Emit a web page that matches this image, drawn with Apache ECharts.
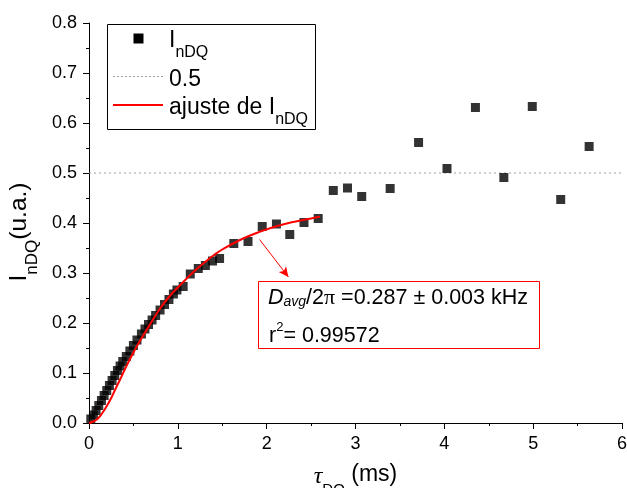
<!DOCTYPE html>
<html>
<head>
<meta charset="utf-8">
<script src="https://cdn.jsdelivr.net/npm/echarts@6/dist/echarts.min.js"></script>
<style>
  html, body { margin: 0; padding: 0; background: #fff; }
  #chart { width: 627px; height: 488px; }
</style>
</head>
<body>
<div id="chart"></div>
<script>
// Measured double-quantum intensity I_nDQ versus DQ evolution time tau_DQ (ms)
const tauDQ = [
  0.02, 0.05, 0.08, 0.11, 0.14, 0.17, 0.20, 0.23, 0.26, 0.29,
  0.32, 0.35, 0.38, 0.42, 0.46, 0.50, 0.54, 0.59, 0.63, 0.67,
  0.71, 0.75, 0.80, 0.85, 0.90, 0.95, 0.99, 1.06, 1.14, 1.23,
  1.31, 1.39, 1.47, 1.63, 1.79, 1.95, 2.11, 2.26, 2.42, 2.58,
  2.75, 2.91, 3.07, 3.39, 3.71, 4.03, 4.35, 4.67, 4.99, 5.31, 5.63
];
const intensity = [
  0.008, 0.016, 0.025, 0.035, 0.045, 0.055, 0.065, 0.075, 0.085, 0.095,
  0.105, 0.114, 0.123, 0.133, 0.144, 0.155, 0.166, 0.178, 0.188, 0.197,
  0.206, 0.215, 0.226, 0.237, 0.247, 0.258, 0.266, 0.273, 0.298, 0.309,
  0.315, 0.324, 0.329, 0.359, 0.363, 0.393, 0.398, 0.377, 0.401, 0.409,
  0.465, 0.470, 0.453, 0.469, 0.561, 0.509, 0.631, 0.491, 0.633, 0.447, 0.553
];

// Fitted build-up curve
const fitTau = [0, 0.05, 0.10, 0.15, 0.20, 0.25, 0.30, 0.35, 0.40, 0.50,
  0.60, 0.70, 0.80, 0.90, 1.00, 1.10, 1.20, 1.30, 1.40, 1.50,
  1.70, 1.90, 2.10, 2.30, 2.50, 2.60];
const fitValue = [0, 0.003, 0.009, 0.020, 0.034, 0.050, 0.069, 0.087, 0.106, 0.141,
  0.172, 0.201, 0.229, 0.252, 0.271, 0.289, 0.306, 0.321, 0.335, 0.347,
  0.366, 0.381, 0.393, 0.402, 0.409, 0.413];

// Reference level
const refLevel = 0.5;
const xRange = [0, 6];

// Arrow from the fitted curve to the result box
const arrowFrom = [1.92, 0.367];
const arrowTo = [2.245, 0.292];

// Legend entries and fit results
const legendNames = ['I', 'nDQ', '0.5', 'ajuste de I', 'nDQ'];
const fitResult = { value: '0.287', error: '0.003', unit: 'kHz', r2: '0.99572' };

const FONT = '"Liberation Sans", Arial, sans-serif';
const SERIF = '"Liberation Serif", "Times New Roman", serif';
const BLACK = '#000000';
const RED = '#ff0000';
const GREY = '#a0a0a0';

const chart = echarts.init(document.getElementById('chart'), null, { renderer: 'canvas' });

function txt(x, y, text, rich) {
  return { type: 'text', x: x, y: y, silent: true, style: { text: text, rich: rich } };
}

const legendRich = {
  a: { fontFamily: FONT, fontSize: 23, color: BLACK, verticalAlign: 'top' },
  s: { fontFamily: FONT, fontSize: 16, color: BLACK, verticalAlign: 'top', padding: [16, 0, 0, 0] }
};

const resultRich = {
  d: { fontFamily: FONT, fontStyle: 'italic', fontSize: 21.5, color: BLACK, verticalAlign: 'top', padding: [4, 0, 0, 0] },
  sub: { fontFamily: FONT, fontStyle: 'italic', fontSize: 14, color: BLACK, verticalAlign: 'top', padding: [12, 0, 0, 0] },
  a: { fontFamily: FONT, fontSize: 21.5, color: BLACK, verticalAlign: 'top', padding: [4, 0, 0, 0] },
  p: { fontFamily: SERIF, fontSize: 22, color: BLACK, verticalAlign: 'top', padding: [4, 0, 0, 0] },
  sup: { fontFamily: FONT, fontSize: 13, color: BLACK, verticalAlign: 'top', padding: [0, 0, 0, 0] }
};

const option = {
  backgroundColor: '#ffffff',
  animation: false,
  grid: { left: 89, right: 5, top: 23, bottom: 65, containLabel: false, outerBoundsMode: 'none' },
  xAxis: {
    type: 'value',
    min: 0, max: 6, interval: 1,
    name: '{t|τ}{s|DQ}{a| (ms)}',
    nameLocation: 'middle',
    nameGap: 40,
    nameTextStyle: {
      rich: {
        t: { fontFamily: SERIF, fontStyle: 'italic', fontSize: 24, color: BLACK, verticalAlign: 'top', padding: [2, 0, 0, 0] },
        s: { fontFamily: FONT, fontSize: 15, color: BLACK, verticalAlign: 'top', padding: [19, 0, 0, 0] },
        a: { fontFamily: FONT, fontSize: 23, color: BLACK, verticalAlign: 'top' }
      }
    },
    axisLine: { lineStyle: { color: BLACK, width: 1 } },
    axisTick: { inside: false, length: 6, lineStyle: { color: BLACK } },
    minorTick: { show: true, splitNumber: 2, length: 3, lineStyle: { color: BLACK } },
    splitLine: { show: false },
    axisLabel: { fontFamily: FONT, fontSize: 18, color: BLACK, margin: 12 }
  },
  yAxis: {
    type: 'value',
    min: 0, max: 0.8, interval: 0.1,
    name: '{a|I}{s|nDQ}{a|(u.a.)}',
    nameLocation: 'middle',
    nameGap: 46,
    nameRotate: 90,
    nameTextStyle: {
      padding: [0, 18, 0, 0],
      rich: {
        a: { fontFamily: FONT, fontSize: 24.5, color: BLACK, verticalAlign: 'top' },
        s: { fontFamily: FONT, fontSize: 17, color: BLACK, verticalAlign: 'top', padding: [17, 0, 0, 0] }
      }
    },
    axisLine: { show: true, lineStyle: { color: BLACK, width: 1 } },
    axisTick: { show: true, inside: false, length: 6, lineStyle: { color: BLACK } },
    minorTick: { show: true, splitNumber: 2, length: 3, lineStyle: { color: BLACK } },
    splitLine: { show: false },
    axisLabel: {
      fontFamily: FONT, fontSize: 18, color: BLACK, margin: 12,
      formatter: v => v.toFixed(1)
    }
  },
  graphic: [
    // legend
    {
      type: 'group',
      silent: true,
      children: [
        { type: 'rect', shape: { x: 107.5, y: 24.5, width: 208, height: 105 },
          style: { fill: '#ffffff', stroke: BLACK, lineWidth: 1 } },
        { type: 'rect', shape: { x: 133.5, y: 33.5, width: 10, height: 10 },
          style: { fill: BLACK } },
        { type: 'line', shape: { x1: 113, y1: 76.5, x2: 163, y2: 76.5 },
          style: { stroke: GREY, lineWidth: 1, lineDash: [2, 2] } },
        { type: 'line', shape: { x1: 113, y1: 105, x2: 163, y2: 105 },
          style: { stroke: RED, lineWidth: 2 } },
        txt(169, 29, '{a|' + legendNames[0] + '}{s|' + legendNames[1] + '}', legendRich),
        txt(169, 68, '{a|' + legendNames[2] + '}', legendRich),
        txt(169, 96, '{a|' + legendNames[3] + '}{s|' + legendNames[4] + '}', legendRich)
      ]
    },
    // fit result box
    {
      type: 'group',
      silent: true,
      children: [
        { type: 'rect', shape: { x: 258.5, y: 281.5, width: 281, height: 67 },
          style: { fill: '#ffffff', stroke: RED, lineWidth: 1 } },
        txt(268, 283, '{d|D}{sub|avg}{a|/2}{p|π}{a| =' + fitResult.value + ' ± ' + fitResult.error + ' ' + fitResult.unit + '}', resultRich),
        txt(269, 321, '{a|r}{sup|2}{a|= ' + fitResult.r2 + '}', resultRich)
      ]
    }
  ],
  series: [
    {
      name: 'I_nDQ',
      type: 'scatter',
      symbol: 'rect',
      symbolSize: 9,
      itemStyle: { color: BLACK },
      z: 2,
      data: tauDQ.map((t, i) => [t, intensity[i]])
    },
    {
      name: '0.5',
      type: 'line',
      symbol: 'none',
      lineStyle: { color: GREY, width: 1, type: [2, 3] },
      z: 1,
      data: xRange.map(x => [x, refLevel])
    },
    {
      name: 'ajuste de I_nDQ',
      type: 'line',
      symbol: 'none',
      smooth: true,
      lineStyle: { color: RED, width: 2 },
      z: 3,
      data: fitTau.map((t, i) => [t, fitValue[i]]),
      markLine: {
        silent: true,
        symbol: ['none', 'arrow'],
        symbolSize: [7, 10],
        label: { show: false },
        lineStyle: { color: RED, width: 1, type: 'solid' },
        data: [[{ coord: arrowFrom }, { coord: arrowTo }]]
      }
    }
  ]
};

chart.setOption(option);
</script>
</body>
</html>
